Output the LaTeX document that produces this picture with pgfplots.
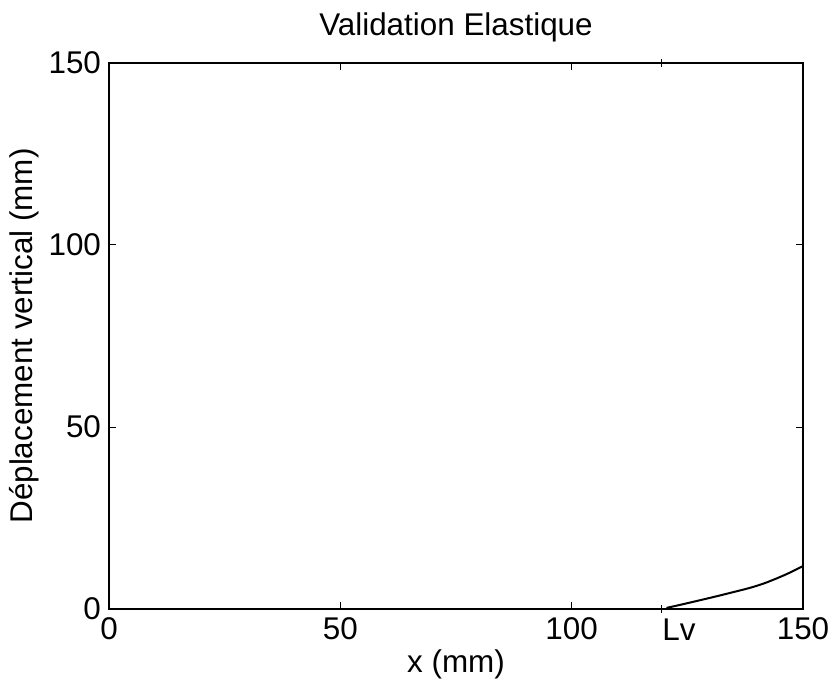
\documentclass[border=0pt]{standalone}
\usepackage{pgfplots}
\pgfplotsset{compat=1.18}
\usepackage{fontspec}
\setmainfont{Liberation Sans}
\begin{document}
\begin{tikzpicture}
\path[use as bounding box] (-54.5bp,-38.5bp) rectangle (361.5bp,304.5bp);
\begin{axis}[
  at={(0,0)}, anchor=south west,
  scale only axis, width=347bp, height=273bp,
  xmin=0, xmax=150, ymin=0, ymax=150,
  xtick={0,50,100,150}, ytick={0,50,100,150},
  tick align=inside, major tick length=3.5bp,
  tick style={black, line width=0.5pt},
  axis line style={line width=0.7pt},
  font=\fontsize{15.7bp}{18bp}\selectfont,
  /pgf/number format/assume math mode=true,
  xticklabel style={yshift=-1bp},
  yticklabel style={xshift=-0.5bp},
  title={Validation Elastique},
  title style={yshift=1bp},
  xlabel={x (mm)},
  ylabel={Déplacement vertical (mm)},
  xlabel style={yshift=4bp},
  ylabel style={yshift=-2bp},
  extra x ticks={119.5}, extra x tick labels={},
  extra x tick style={tick align=center, major tick length=4bp},
  clip=false,
]
\addplot[black, line width=1bp] coordinates {(0,0) (120.5,0)};
\addplot[black, line width=1bp, smooth] coordinates {
 (120.5,0.3) (124,1.3) (127.7,2.4) (131,3.4) (134.5,4.5) (138.5,5.8) (141.5,7.0) (144.3,8.4) (147,9.9) (150,11.8)
};
\node[anchor=north west, inner sep=0pt, font=\fontsize{15.7bp}{18bp}\selectfont] at (axis cs:119.5,-2.5) {Lv};
\end{axis}
\end{tikzpicture}
\end{document}
